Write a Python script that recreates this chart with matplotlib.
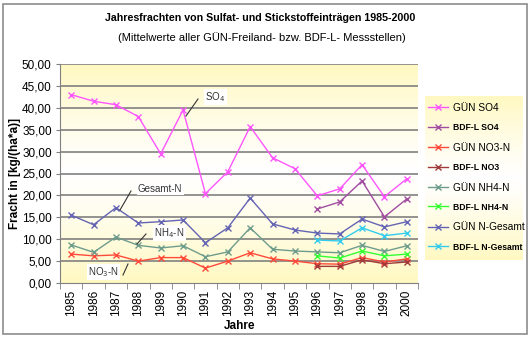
import matplotlib
matplotlib.use("Agg")
import matplotlib.pyplot as plt
import numpy as np
from matplotlib.patches import Rectangle
from matplotlib.lines import Line2D

plt.rcParams['font.family'] = ['Liberation Sans', 'DejaVu Sans']

years = list(range(1985, 2001))
years_bdf = list(range(1996, 2001))

gun_so4 = [43.0, 41.5, 40.7, 38.0, 29.5, 39.5, 20.4, 25.4, 35.7, 28.6, 26.1, 19.9, 21.5, 27.0, 19.7, 23.8]
bdf_so4 = [16.9, 18.5, 23.3, 15.1, 19.2]
gun_no3 = [6.6, 6.2, 6.4, 5.0, 5.8, 5.8, 3.4, 5.0, 6.9, 5.5, 5.0, 4.4, 4.3, 5.8, 4.8, 5.5]
bdf_no3 = [3.8, 3.8, 5.3, 4.4, 4.8]
gun_nh4 = [8.7, 7.0, 10.5, 8.6, 8.0, 8.5, 6.0, 7.1, 12.6, 7.7, 7.3, 7.1, 6.9, 8.6, 7.2, 8.5]
bdf_nh4 = [6.2, 5.7, 7.3, 6.2, 6.6]
gun_nges = [15.5, 13.3, 17.2, 13.7, 14.0, 14.4, 9.2, 12.6, 19.4, 13.5, 12.1, 11.4, 11.2, 14.6, 12.8, 14.0]
bdf_nges = [9.8, 9.6, 12.6, 10.8, 11.4]

series = [
    ("GÜN SO4", years, gun_so4, "#FF55FF", False),
    ("BDF-L SO4", years_bdf, bdf_so4, "#A04CA0", True),
    ("GÜN NO3-N", years, gun_no3, "#FF4A3A", False),
    ("BDF-L NO3", years_bdf, bdf_no3, "#A03A3A", True),
    ("GÜN NH4-N", years, gun_nh4, "#6E9C8C", False),
    ("BDF-L NH4-N", years_bdf, bdf_nh4, "#33FF33", True),
    ("GÜN N-Gesamt", years, gun_nges, "#6464B4", False),
    ("BDF-L N-Gesamt", years_bdf, bdf_nges, "#33CCEE", True),
]

W, H = 530, 338
fig = plt.figure(figsize=(W / 100, H / 100), dpi=100)
fig.patch.set_facecolor("white")

def fx(px):
    return px / W

def fy(py):
    return 1 - py / H

# outer border
fig.patches.append(Rectangle((fx(3), fy(334)), fx(524), 330 / H, transform=fig.transFigure,
                             fill=False, edgecolor="#8c8c8c", linewidth=1.2))

L, R, T, B = 60, 418, 64, 283
ax = fig.add_axes([fx(L), fy(B), fx(R - L), (B - T) / H])

# gradient background
t = np.linspace(0, 1, 200)[:, None]
yel = np.array([1.0, 0.975, 0.76])
wht = np.array([1.0, 1.0, 1.0])
w = np.clip(np.abs(t - 0.5) / 0.5, 0, 1) ** 1.2
grad = wht + (yel - wht) * w[..., None]
grad = np.repeat(grad, 2, axis=1)
ax.imshow(grad, extent=[1984.5, 2000.5, 0, 50], aspect="auto", origin="lower", zorder=0)

for y in np.arange(5, 51, 5):
    ax.axhline(y, color="#808080", linewidth=1.2, zorder=1)

handles = []
for name, xs, ys, col, bold in series:
    ax.plot(xs, ys, color=col, marker="x", markersize=5, linewidth=1.0,
            markeredgewidth=1.0, zorder=3)
    handles.append(Line2D([], [], color=col, marker="x", markersize=4.5, linewidth=1.0))

ax.set_xlim(1984.5, 2000.5)
ax.set_ylim(0, 50)
ax.set_yticks(np.arange(0, 51, 5))
ax.set_yticklabels([f"{v:.2f}".replace(".", ",") for v in np.arange(0, 51, 5)], fontsize=8.5)
ax.set_xticks(years)
ax.set_xticklabels([str(y) for y in years], rotation=90, fontsize=8.5)
ax.set_xticks(np.arange(1984.5, 2001, 1), minor=True)
ax.tick_params(axis="x", which="major", length=0, pad=5)
ax.tick_params(axis="x", which="minor", length=4, color="#808080")
ax.tick_params(axis="y", length=3, color="#808080", pad=3)
for s in ["top", "right"]:
    ax.spines[s].set_visible(False)
for s in ["left", "bottom"]:
    ax.spines[s].set_color("#808080")

ax.set_ylabel("Fracht in [kg/(ha*a)]", fontsize=8.5, fontweight="bold")
ax.yaxis.set_label_coords((21 - L) / (R - L), 0.5)
ax.set_xlabel("Jahre", fontsize=8.5, fontweight="bold")
ax.xaxis.set_label_coords((240 - L) / (R - L), -(320 - B) / (B - T))

# annotations
def annot(text, tx, ty, lx0, ly0, lx1, ly1):
    fig.lines.append(Line2D([fx(lx0), fx(lx1)], [fy(ly0), fy(ly1)], transform=fig.transFigure,
                            color="#333333", linewidth=0.8, zorder=5))
    fig.text(fx(tx), fy(ty), text, fontsize=7, color="#333333", va="center", ha="left",
             bbox=dict(facecolor="white", edgecolor="none", pad=1.0), zorder=6)

annot("SO$_4$", 205, 97, 198, 99, 186, 116)
annot("Gesamt-N", 138, 189, 131, 191, 120, 210)
annot("NH$_4$-N", 154, 233, 146, 234, 137, 244)
annot("NO$_3$-N", 88, 272, 128, 264, 123, 275)

# titles
fig.text(fx(260), fy(18), "Jahresfrachten von Sulfat- und Stickstoffeinträgen 1985-2000",
         fontsize=7.7, fontweight="bold", ha="center", va="center")
fig.text(fx(262), fy(38), "(Mittelwerte aller GÜN-Freiland- bzw. BDF-L- Messstellen)",
         fontsize=8, ha="center", va="center")

# legend background gradient
lx0, lx1, ly0, ly1 = 425, 523, 96, 260
lax = fig.add_axes([fx(lx0), fy(ly1), fx(lx1 - lx0), (ly1 - ly0) / H])
lax.imshow(grad, extent=[0, 1, 0, 1], aspect="auto", origin="lower")
lax.axis("off")

leg = fig.legend(handles, [s[0] for s in series], loc="upper left",
                 bbox_to_anchor=(fx(lx0 + 1), fy(ly0 + 5)), frameon=False, fontsize=7.3,
                 handlelength=2.0, handletextpad=0.5, labelspacing=1.02,
                 borderaxespad=0, borderpad=0.2)
for txt, s in zip(leg.get_texts(), series):
    if s[4]:
        txt.set_fontweight("bold")
        txt.set_fontsize(6.2)

fig.savefig("out.png", dpi=100)
